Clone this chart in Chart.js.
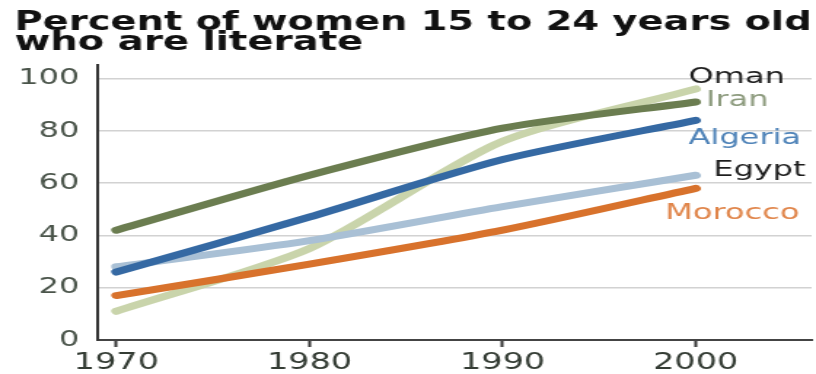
<!DOCTYPE html>
<html><head><meta charset="utf-8">
<script src="https://cdn.jsdelivr.net/npm/chart.js@4"></script>
<style>
html,body{margin:0;padding:0;background:#fff;overflow:hidden;}
#wrap{width:560px;height:374px;transform:scaleX(1.4571);transform-origin:0 0;}
</style></head><body>
<div id="wrap"><canvas id="c" width="560" height="374"></canvas></div>
<script>
// ---- data ----
const years = [1970, 1980, 1990, 2000];
const iran = [42, 63, 81, 91];
const algeria = [26, 47, 69, 84];
const egypt = [28, 38, 51, 63];
const morocco = [17, 29, 42, 58];
const oman = [11, 35, 76, 96];
const xTickValues = [1970, 1980, 1990, 2000];
const yTickValues = [0, 20, 40, 60, 80, 100];
const titleLines = ['Percent of women 15 to 24 years old', 'who are literate'];

// ---- styles ----
const seriesStyle = {
  Iran:    {line: '#6b7d50', text: '#8d9b7e', dx: 7,   dy: -2},
  Algeria: {line: '#3569a3', text: '#4f83b8', dx: -5,  dy: 18},
  Egypt:   {line: '#a9c0d5', text: '#1e1e1e', dx: 12,  dy: -5},
  Morocco: {line: '#d8722c', text: '#e0854a', dx: -21, dy: 25},
  Oman:    {line: '#c9d4ab', text: '#1e1e1e', dx: -5,  dy: -12}
};
const seriesData = {Iran: iran, Algeria: algeria, Egypt: egypt, Morocco: morocco, Oman: oman};
const FONT = '"DejaVu Sans", Verdana, sans-serif';

const datasets = Object.keys(seriesData).map(name => ({
  label: name,
  data: years.map((y, i) => ({x: y, y: seriesData[name][i]})),
  borderColor: seriesStyle[name].line,
  backgroundColor: seriesStyle[name].line,
  borderWidth: 7,
  borderCapStyle: 'round',
  borderJoinStyle: 'round',
  pointRadius: 0,
  tension: 0.25,
  fill: false
}));

const endLabels = {
  id: 'endLabels',
  afterDatasetsDraw(chart) {
    const ctx = chart.ctx;
    chart.data.datasets.forEach((ds, i) => {
      const meta = chart.getDatasetMeta(i);
      const pt = meta.data[meta.data.length - 1];
      const st = seriesStyle[ds.label];
      ctx.save();
      ctx.font = '22px ' + FONT;
      ctx.fillStyle = st.text;
      ctx.textAlign = 'left';
      ctx.textBaseline = 'middle';
      ctx.fillText(ds.label, pt.x + st.dx, pt.y + st.dy);
      ctx.restore();
    });
  }
};

new Chart(document.getElementById('c'), {
  type: 'line',
  data: {datasets},
  options: {
    responsive: false,
    animation: false,
    layout: {padding: {left: 10, right: 3, top: 0, bottom: 0}},
    plugins: {
      legend: {display: false},
      tooltip: {enabled: false},
      title: {
        display: true,
        text: titleLines,
        align: 'start',
        color: '#111',
        font: {family: FONT, size: 26.5, weight: 'bold', lineHeight: 0.77},
        padding: {top: 13, bottom: 11.6}
      }
    },
    scales: {
      x: {
        type: 'linear',
        min: 1969, max: 2006,
        afterBuildTicks: s => { s.ticks = xTickValues.map(v => ({value: v})); },
        afterFit: s => { s.height = 34; },
        ticks: {
          callback: v => String(v),
          color: '#343c34',
          font: {family: FONT, size: 23},
          padding: 2,
          maxRotation: 0,
          autoSkip: false
        },
        grid: {drawOnChartArea: false, drawTicks: true, tickLength: 7, tickColor: '#333', tickWidth: 2},
        border: {display: true, color: '#444', width: 2}
      },
      y: {
        type: 'linear',
        min: 0, max: 105,
        afterBuildTicks: s => { s.ticks = yTickValues.map(v => ({value: v})); },
        afterFit: s => { s.width = 56.6; },
        ticks: {
          callback: v => String(v),
          color: '#4a544a',
          font: {family: FONT, size: 22},
          padding: 12
        },
        grid: {color: '#d2d2d2', lineWidth: 1.5, drawTicks: false},
        border: {display: true, color: '#333', width: 2}
      }
    }
  },
  plugins: [endLabels]
});
</script>
</body></html>
